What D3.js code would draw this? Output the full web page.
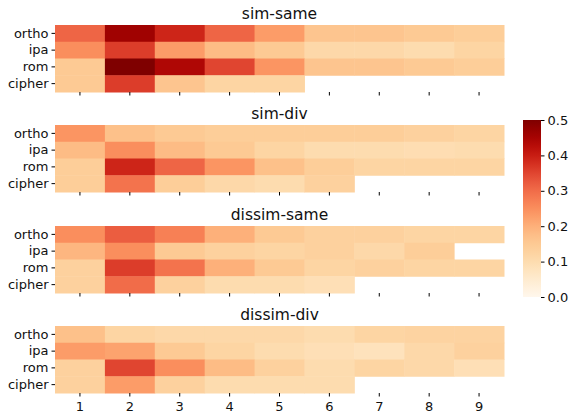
<!DOCTYPE html>
<html>
<head>
<meta charset="utf-8">
<script src="https://cdn.jsdelivr.net/npm/d3@7"></script>
<style>
  body { margin: 0; background: #fff; }
  text { font-family: "DejaVu Sans", sans-serif; fill: #111; }
</style>
</head>
<body>
<div id="chart"></div>
<script>
// rows and columns shared by every panel
const rows = ["ortho", "ipa", "rom", "cipher"];
const cols = [1, 2, 3, 4, 5, 6, 7, 8, 9];
const titles = ["sim-same", "sim-div", "dissim-same", "dissim-div"];

// one array per panel, one row per language form, null = no cell
const simSame = [
  [0.31, 0.46, 0.39, 0.31, 0.23, 0.16, 0.16, 0.15, 0.14],
  [0.25, 0.36, 0.23, 0.18, 0.15, 0.11, 0.11, 0.10, 0.12],
  [0.15, 0.50, 0.44, 0.35, 0.24, 0.16, 0.16, 0.15, 0.14],
  [0.15, 0.36, 0.16, 0.12, 0.12, null, null, null, null]
];
const simDiv = [
  [0.24, 0.17, 0.15, 0.14, 0.14, 0.14, 0.14, 0.13, 0.12],
  [0.18, 0.25, 0.18, 0.15, 0.12, 0.10, 0.10, 0.095, 0.10],
  [0.14, 0.39, 0.31, 0.24, 0.17, 0.14, 0.12, 0.12, 0.12],
  [0.14, 0.29, 0.14, 0.11, 0.10, 0.13, null, null, null]
];
const dissimSame = [
  [0.25, 0.32, 0.27, 0.20, 0.15, 0.13, 0.13, 0.12, 0.12],
  [0.19, 0.25, 0.15, 0.13, 0.12, 0.13, 0.11, 0.14, null],
  [0.13, 0.36, 0.29, 0.20, 0.15, 0.12, 0.13, 0.12, 0.12],
  [0.13, 0.30, 0.13, 0.10, 0.10, 0.09, null, null, null]
];
const dissimDiv = [
  [0.17, 0.12, 0.11, 0.11, 0.11, 0.10, 0.12, 0.125, 0.125],
  [0.23, 0.22, 0.15, 0.12, 0.10, 0.09, 0.08, 0.11, 0.13],
  [0.13, 0.35, 0.25, 0.18, 0.13, 0.10, 0.12, 0.11, 0.09],
  [0.13, 0.23, 0.13, 0.10, 0.10, 0.10, null, null, null]
];
const panels = [simSame, simDiv, dissimSame, dissimDiv];
const cbTicks = [0.0, 0.1, 0.2, 0.3, 0.4, 0.5];

const width = 571, height = 414;
const panelTops = [25, 125, 226, 326];
const panelH = 67;

const svg = d3.select("#chart").append("svg")
  .attr("width", width)
  .attr("height", height);

const x = d3.scaleBand().domain(cols).range([55, 504]).padding(0);
const color = d3.scaleSequential(d3.interpolateOrRd).domain([0, 0.5]);

panels.forEach((data, p) => {
  const top = panelTops[p];
  const y = d3.scaleBand().domain(rows).range([top, top + panelH]).padding(0);
  const g = svg.append("g");

  const cells = [];
  data.forEach((r, i) => r.forEach((v, j) => {
    if (v !== null) cells.push({row: rows[i], col: cols[j], v: v});
  }));

  g.selectAll("rect").data(cells).enter().append("rect")
    .attr("x", d => x(d.col))
    .attr("y", d => y(d.row))
    .attr("width", x.bandwidth() + 0.5)
    .attr("height", y.bandwidth() + 0.5)
    .attr("fill", d => color(d.v));

  g.append("text")
    .attr("x", (55 + 504) / 2)
    .attr("y", top - 6)
    .attr("text-anchor", "middle")
    .style("font-size", "15.5px")
    .text(titles[p]);

  const yAxis = d3.axisLeft(y).tickSize(3.5).tickPadding(3);
  const ya = g.append("g").attr("transform", "translate(55,0)").call(yAxis);
  ya.select(".domain").remove();
  ya.selectAll("text").style("font-size", "13px");

  const xAxis = d3.axisBottom(x).tickSize(3.5).tickPadding(5);
  const xa = g.append("g").attr("transform", `translate(0,${top + panelH})`).call(xAxis);
  xa.select(".domain").remove();
  xa.selectAll("text").style("font-size", "13px");
  if (p < panels.length - 1) xa.selectAll("text").remove();
});

// colorbar
const cbX = 523, cbW = 18, cbTop = 120, cbBot = 297;
const cbScale = d3.scaleLinear().domain([0, 0.5]).range([cbBot, cbTop]);
const defs = svg.append("defs");
const grad = defs.append("linearGradient").attr("id", "cb")
  .attr("x1", 0).attr("y1", 1).attr("x2", 0).attr("y2", 0);
d3.range(0, 1.0001, 0.05).forEach(t => {
  grad.append("stop").attr("offset", t).attr("stop-color", d3.interpolateOrRd(t));
});
svg.append("rect")
  .attr("x", cbX).attr("y", cbTop)
  .attr("width", cbW).attr("height", cbBot - cbTop)
  .attr("fill", "url(#cb)");
const cbAxis = d3.axisRight(cbScale).tickValues(cbTicks).tickFormat(d3.format(".1f")).tickSize(3.5).tickPadding(3);
const ca = svg.append("g").attr("transform", `translate(${cbX + cbW},0)`).call(cbAxis);
ca.select(".domain").remove();
ca.selectAll("text").style("font-size", "13px");
</script>
</body>
</html>
